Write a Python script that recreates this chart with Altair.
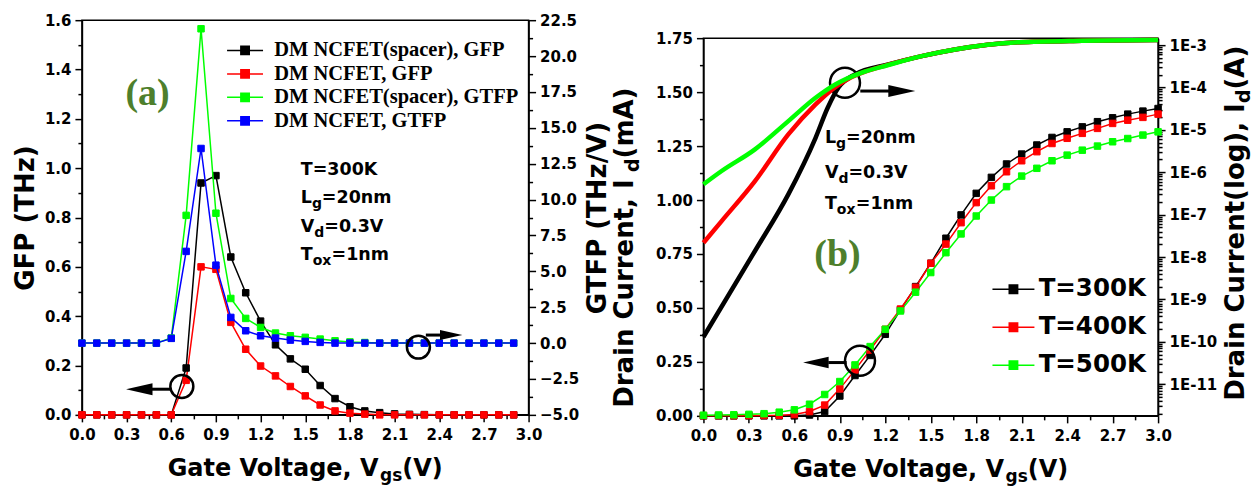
import altair as alt
import pandas as pd

FONT = "DejaVu Sans"
SERIF = "Liberation Serif"
PANEL_GREEN = "#4e7f2c"

# ---------------- (a) GFP (left axis) and GTFP (right axis) ----------------
vgs_a = [0.0, 0.1, 0.2, 0.3, 0.4, 0.5, 0.6, 0.7, 0.8, 0.9, 1.0, 1.1, 1.2, 1.3, 1.4,
         1.5, 1.6, 1.7, 1.8, 1.9, 2.0, 2.1, 2.2, 2.3, 2.4, 2.5, 2.6, 2.7, 2.8, 2.9]
gfp_spacer = [0, 0, 0, 0, 0, 0, 0, 0.19, 0.94, 0.97, 0.64, 0.495, 0.38, 0.284, 0.227,
              0.185, 0.119, 0.066, 0.033, 0.016, 0.009, 0.004, 0.002, 0.001, 0, 0, 0, 0, 0, 0]
gfp_plain = [0, 0, 0, 0, 0, 0, 0, 0.14, 0.60, 0.59, 0.375, 0.266, 0.198, 0.158, 0.115,
             0.077, 0.040, 0.016, 0.007, 0.003, 0, 0, 0, 0, 0, 0, 0, 0, 0, 0]
gtfp_spacer = [0, 0, 0, 0, 0, 0, 0.35, 8.9, 21.9, 9.05, 3.11, 1.72, 1.09, 0.70, 0.51,
               0.40, 0.28, 0.16, 0.08, 0.04, 0, 0, 0, 0, 0, 0, 0, 0, 0, 0]
gtfp_plain = [0, 0, 0, 0, 0, 0, 0.33, 6.39, 13.56, 5.43, 1.79, 0.86, 0.51, 0.35, 0.21,
              0.12, 0.05, 0, 0, 0, 0, 0, 0, 0, 0, 0, 0, 0, 0, 0]
series_a = ["DM NCFET(spacer), GFP", "DM NCFET, GFP",
            "DM NCFET(spacer), GTFP", "DM NCFET, GTFP"]
colors_a = ["#000000", "#ff0000", "#00ff00", "#0000ff"]

# ---------------- (b) drain current: linear (left) and log (right) ----------------
vgs_b = [0.0, 0.1, 0.2, 0.3, 0.4, 0.5, 0.6, 0.7, 0.8, 0.9, 1.0, 1.1, 1.2, 1.3, 1.4, 1.5,
         1.6, 1.7, 1.8, 1.9, 2.0, 2.1, 2.2, 2.3, 2.4, 2.5, 2.6, 2.7, 2.8, 2.9, 3.0]
id_lin_300 = [0, 0, 0, 0, 0, 0, 0, 0.004, 0.02, 0.092, 0.187, 0.28, 0.378, 0.491, 0.599,
              0.707, 0.823, 0.931, 1.031, 1.105, 1.167, 1.213, 1.255, 1.290, 1.316, 1.339,
              1.363, 1.381, 1.398, 1.412, 1.424]
id_lin_400 = [0.001, 0.001, 0.001, 0.001, 0.002, 0.003, 0.006, 0.02, 0.05, 0.125, 0.213,
              0.305, 0.401, 0.495, 0.596, 0.707, 0.796, 0.895, 0.988, 1.066, 1.131, 1.182,
              1.224, 1.262, 1.286, 1.309, 1.332, 1.355, 1.370, 1.383, 1.398]
id_lin_500 = [0.003, 0.004, 0.005, 0.007, 0.010, 0.017, 0.028, 0.054, 0.099, 0.159, 0.236,
              0.321, 0.401, 0.486, 0.573, 0.664, 0.756, 0.843, 0.926, 1.0, 1.062, 1.111,
              1.147, 1.182, 1.208, 1.231, 1.25, 1.27, 1.285, 1.301, 1.316]
vgs_log_300 = [0.0, 0.34, 0.56, 0.74, 0.82, 0.89, 1.0, 1.22, 1.44, 1.66, 2.08, 2.5, 3.0]
id_log_300 = [1.30e-10, 1.39e-8, 3.01e-7, 6.52e-6, 3.32e-5, 9.84e-5, 2.04e-4, 3.5e-4,
              5.5e-4, 7.9e-4, 1.17e-3, 1.27e-3, 1.32e-3]
vgs_log_400 = [0.0, 0.12, 0.34, 0.56, 0.74, 0.85, 0.93, 1.22, 1.44, 1.66, 2.08, 2.5, 3.0]
id_log_400 = [2.17e-8, 7.06e-8, 6.19e-7, 7.83e-6, 3.99e-5, 9.02e-5, 1.42e-4, 3.45e-4,
              5.5e-4, 7.9e-4, 1.17e-3, 1.27e-3, 1.32e-3]
vgs_log_500 = [0.0, 0.12, 0.34, 0.56, 0.74, 0.87, 1.04, 1.22, 1.44, 1.66, 2.08, 2.5, 3.0]
id_log_500 = [5.19e-7, 1.07e-6, 3.47e-6, 1.61e-5, 5.71e-5, 1.18e-4, 2.22e-4, 3.4e-4,
              5.5e-4, 7.9e-4, 1.17e-3, 1.27e-3, 1.32e-3]
temps = ["T=300K", "T=400K", "T=500K"]
colors_b = ["#000000", "#ff0000", "#00ff00"]

W_A, H_A = 447, 395
W_B, H_B = 455, 378

# ---------------- axes: major + minor ticks ----------------
X_TICKS = [round(i * 0.15, 2) for i in range(21)]
GFP_TICKS = [round(i * 0.1, 1) for i in range(17)]
GTFP_TICKS = [round(-5 + i * 1.25, 2) for i in range(23)]
ID_TICKS = [round(i * 0.125, 3) for i in range(15)]
LOG_DOMAIN = [1.79e-12, 1.46e-3]
LOG_TICKS = [k * 10.0 ** e for e in range(-12, -2) for k in range(1, 10)
             if LOG_DOMAIN[0] <= k * 10.0 ** e <= LOG_DOMAIN[1]]


def ticked_axis(major_test, label, **kw):
    return alt.Axis(
        labelExpr=f"{major_test} ? {label} : ''",
        tickSize={"condition": {"test": major_test, "value": 7}, "value": 4},
        labelOverlap=False, labelFlush=False, grid=False, **kw)


x_axis = ticked_axis("round(datum.value*100) % 30 == 0", "format(datum.value, '.1f')",
                     values=X_TICKS, title=None, labelPadding=6)
X_A = alt.X("vgs:Q", scale=alt.Scale(domain=[0, 3], nice=False, zero=False), axis=x_axis)
X_B = alt.X("vgs:Q", scale=alt.Scale(domain=[0, 3], nice=False, zero=False), axis=x_axis)
X2 = alt.X2("vgs2:Q")

Y_GFP = alt.Y("val:Q", scale=alt.Scale(domain=[0, 1.6], nice=False, zero=False),
              axis=ticked_axis("round(datum.value*10) % 2 == 0", "format(datum.value, '.1f')",
                               values=GFP_TICKS, title="GFP (THz)", titlePadding=6))
Y_GTFP = alt.Y("val:Q", scale=alt.Scale(domain=[-5, 22.5], nice=False, zero=False),
               axis=ticked_axis("round(datum.value*100) % 250 == 0", "format(datum.value, '.1f')",
                                values=GTFP_TICKS, title="GTFP (THz/V)", orient="right",
                                titleAngle=270, titleBaseline="top", titlePadding=6))
Y_LIN = alt.Y("cur:Q", scale=alt.Scale(domain=[0, 1.75], nice=False, zero=False),
              axis=ticked_axis("round(datum.value*1000) % 250 == 0", "format(datum.value, '.2f')",
                               values=ID_TICKS, title=None))
Y_LOG = alt.Y("cur:Q", scale=alt.Scale(type="log", domain=LOG_DOMAIN, nice=False),
              axis=ticked_axis("abs(log(datum.value)/LN10 - round(log(datum.value)/LN10)) < 0.01",
                               "'1E' + round(log(datum.value)/LN10)",
                               values=LOG_TICKS, title=None, orient="right"))

# line with a square marker in the middle, for legend symbols
PATH_A = "M-3,0H3M-0.7,-0.7H0.7V0.7H-0.7Z"
PATH_B = "M-3,0H3M-0.6,-0.6H0.6V0.6H-0.6Z"
HEAD_LEFT = "M-1,0L1,-0.45L1,0.45Z"
HEAD_RIGHT = "M1,0L-1,-0.45L-1,0.45Z"

SCALE_A = alt.Scale(domain=series_a, range=colors_a)
SCALE_B = alt.Scale(domain=temps, range=colors_b)
HEX_A = dict(zip(series_a, colors_a))
HEX_B = dict(zip(temps, colors_b))

LEG_A = alt.Legend(title=None, orient="none", legendX=153, legendY=20,
                   symbolType=PATH_A, symbolSize=144, symbolStrokeWidth=1.5,
                   labelFont=SERIF, labelFontSize=20.5, labelFontWeight="bold",
                   labelColor="black", labelOffset=19, rowPadding=2.5, labelLimit=500,
                   fillColor="white", padding=0)
LEG_B = alt.Legend(title=None, orient="none", legendX=298, legendY=257,
                   symbolType=PATH_B, symbolSize=196, symbolStrokeWidth=1.5,
                   labelFont=FONT, labelFontSize=24.5, labelFontWeight="bold",
                   labelColor="black", labelOffset=13, rowPadding=13, labelLimit=500,
                   padding=0)


def marker_series(df, x, y, field, scale, legend):
    # connecting lines take their colour straight from the table (no scale, no legend)
    line = alt.Chart(df).mark_line(strokeWidth=1.5).encode(
        x=x, y=y, detail=f"{field}:N", color=alt.Color("hex:N", scale=None))
    pts = alt.Chart(df).mark_point(shape="square", filled=True, size=42, opacity=1,
                                   strokeWidth=1).encode(
        x=x, y=y,
        fill=alt.Fill(f"{field}:N", scale=scale, legend=legend),
        stroke=alt.Stroke(f"{field}:N", scale=scale, legend=legend))
    return [line, pts]


def frame(xs, names, field, ycol, values, hexmap):
    rows = []
    for name, vals in zip(names, values):
        for v, val in zip(xs, vals):
            rows.append({"vgs": v, ycol: val, field: name, "hex": hexmap[name]})
    return pd.DataFrame(rows)


def pos(x, y, ycol):
    return pd.DataFrame({"vgs": [x], ycol: [y]})


def text_parts(df, x, y, parts, angle=0, font=FONT, color="black", baseline="middle"):
    out = []
    for txt, size, dx, dy in parts:
        out.append(alt.Chart(df).mark_text(
            text=txt, font=font, fontWeight="bold", fontSize=size, color=color,
            align="left", baseline=baseline, dx=dx, dy=dy, angle=angle).encode(x=x, y=y))
    return out


def circle(df, x, y, size):
    return alt.Chart(df).mark_point(shape="circle", filled=False, size=size, opacity=1,
                                    color="black", strokeWidth=2.5).encode(x=x, y=y)


def arrow(df_line, df_head, x, y, head, head_size):
    shaft = alt.Chart(df_line).mark_rule(color="black", strokeWidth=3).encode(x=x, x2=X2, y=y)
    tip = alt.Chart(df_head).mark_point(shape=head, filled=True, size=head_size, opacity=1,
                                        color="black").encode(x=x, y=y)
    return [shaft, tip]


BLANK = pd.DataFrame({"k": [0]})
X_TITLE = [("Gate Voltage, V", 24, 0, 0), ("gs", 17, 212.5, 5), ("(V)", 24, 234.8, 0)]

# ================= panel (a) =================
df_gfp = frame(vgs_a, series_a[:2], "series", "val", [gfp_spacer, gfp_plain], HEX_A)
df_gtfp = frame(vgs_a, series_a[2:], "series", "val", [gtfp_spacer, gtfp_plain], HEX_A)

a_left = marker_series(df_gfp, X_A, Y_GFP, "series", SCALE_A, LEG_A)
a_left += text_parts(pos(1.47, 0.992, "val"), X_A, Y_GFP, [("T=300K", 17.5, 0, 0)])
a_left += text_parts(pos(1.47, 0.879, "val"), X_A, Y_GFP,
                     [("L", 17.5, 0, 0), ("g", 14, 11.1, 6), ("=20nm", 17.5, 21.1, 0)])
a_left += text_parts(pos(1.47, 0.762, "val"), X_A, Y_GFP,
                     [("V", 17.5, 0, 0), ("d", 14, 13.5, 6), ("=0.3V", 17.5, 23.5, 0)])
a_left += text_parts(pos(1.47, 0.648, "val"), X_A, Y_GFP,
                     [("T", 17.5, 0, 0), ("ox", 14, 11.9, 6), ("=1nm", 17.5, 30.8, 0)])
a_left += text_parts(pos(0.44, 1.30, "val"), X_A, Y_GFP, [("(a)", 38, -22, 0)],
                     font=SERIF, color=PANEL_GREEN)
a_left.append(circle(pos(0.671, 0.115, "val"), X_A, Y_GFP, 529))
a_left += arrow(pd.DataFrame({"vgs": [0.47], "vgs2": [0.597], "val": [0.104]}),
                pos(0.385, 0.104, "val"), X_A, Y_GFP, HEAD_LEFT, 700)
a_left += text_parts(BLANK, alt.value(85.8), alt.value(H_A + 61), X_TITLE,
                     baseline="alphabetic")

a_right = marker_series(df_gtfp, X_A, Y_GTFP, "series", SCALE_A, LEG_A)
a_right.append(circle(pos(2.26, -0.28, "val"), X_A, Y_GTFP, 529))
a_right += arrow(pd.DataFrame({"vgs": [2.31], "vgs2": [2.42], "val": [0.56]}),
                 pos(2.48, 0.56, "val"), X_A, Y_GTFP, HEAD_RIGHT, 500)

panel_a = alt.layer(alt.layer(*a_left), alt.layer(*a_right)).resolve_scale(
    y="independent").properties(width=W_A, height=H_A)

# ================= panel (b) =================
df_lin = frame(vgs_b, temps, "temp", "cur", [id_lin_300, id_lin_400, id_lin_500], HEX_B)
log_rows = []
for name, xs, ys in zip(temps, [vgs_log_300, vgs_log_400, vgs_log_500],
                        [id_log_300, id_log_400, id_log_500]):
    for v, c in zip(xs, ys):
        log_rows.append({"vgs": v, "cur": c, "temp": name, "hex": HEX_B[name]})
df_log = pd.DataFrame(log_rows)

b_left = marker_series(df_lin, X_B, Y_LIN, "temp", SCALE_B, LEG_B)
b_left += text_parts(pos(0.802, 1.289, "cur"), X_B, Y_LIN,
                     [("L", 17.5, 0, 0), ("g", 14, 11.1, 6), ("=20nm", 17.5, 21.1, 0)])
b_left += text_parts(pos(0.802, 1.127, "cur"), X_B, Y_LIN,
                     [("V", 17.5, 0, 0), ("d", 14, 13.5, 6), ("=0.3V", 17.5, 23.5, 0)])
b_left += text_parts(pos(0.802, 0.981, "cur"), X_B, Y_LIN,
                     [("T", 17.5, 0, 0), ("ox", 14, 11.9, 6), ("=1nm", 17.5, 30.8, 0)])
b_left += text_parts(pos(0.883, 0.745, "cur"), X_B, Y_LIN, [("(b)", 38, -23, 0)],
                     font=SERIF, color=PANEL_GREEN)
b_left.append(circle(pos(0.934, 1.543, "cur"), X_B, Y_LIN, 900))
b_left += arrow(pd.DataFrame({"vgs": [1.035], "vgs2": [1.24], "cur": [1.505]}),
                pos(1.309, 1.505, "cur"), X_B, Y_LIN, HEAD_RIGHT, 729)
b_left.append(circle(pos(1.033, 0.255, "cur"), X_B, Y_LIN, 900))
b_left += arrow(pd.DataFrame({"vgs": [0.824], "vgs2": [0.945], "cur": [0.247]}),
                pos(0.742, 0.247, "cur"), X_B, Y_LIN, HEAD_LEFT, 650)
b_left += text_parts(BLANK, alt.value(89.8), alt.value(H_B + 61), X_TITLE,
                     baseline="alphabetic")
b_left += text_parts(BLANK, alt.value(-70), alt.value(370),
                     [("Drain Current, I", 26, 0, 0), ("d", 19, 236, 6), ("(mA)", 26, 249.6, 0)],
                     angle=270, baseline="alphabetic")
b_left += text_parts(BLANK, alt.value(541), alt.value(363),
                     [("Drain Current(log), I", 26, 0, 0), ("d", 19, 298, 6), ("(A)", 26, 311.6, 0)],
                     angle=270, baseline="alphabetic")

b_right = [alt.Chart(df_log).mark_line(strokeWidth=4.5, interpolate="monotone").encode(
    x=X_B, y=Y_LOG, detail="temp:N", color=alt.Color("hex:N", scale=None))]

panel_b = alt.layer(alt.layer(*b_left), alt.layer(*b_right)).resolve_scale(
    y="independent").properties(width=W_B, height=H_B)

# an empty strip that lowers panel (b) below the top edge of panel (a)
gap_b = alt.Chart(BLANK).mark_point(opacity=0).encode(
    x=alt.value(0), y=alt.value(0)).properties(
    width=10, height=9, view=alt.ViewBackground(stroke="transparent"))

chart = alt.hconcat(panel_a, alt.vconcat(gap_b, panel_b, spacing=0), spacing=0).resolve_scale(
    fill="independent", stroke="independent"
).resolve_legend(
    fill="independent", stroke="independent"
).properties(
    padding={"left": 11, "top": 12, "right": 0, "bottom": 0}, background="white"
).configure_view(
    stroke="black", strokeWidth=1.5
).configure_axis(
    labelFont=FONT, labelFontWeight="bold", labelFontSize=15, labelColor="black",
    titleFont=FONT, titleFontWeight="bold", titleFontSize=26, titleColor="black",
    domainColor="black", domainWidth=1.5, tickColor="black", tickWidth=1.5, labelPadding=4
)

chart.save("out.html", embed_options={"renderer": "svg", "actions": False})
